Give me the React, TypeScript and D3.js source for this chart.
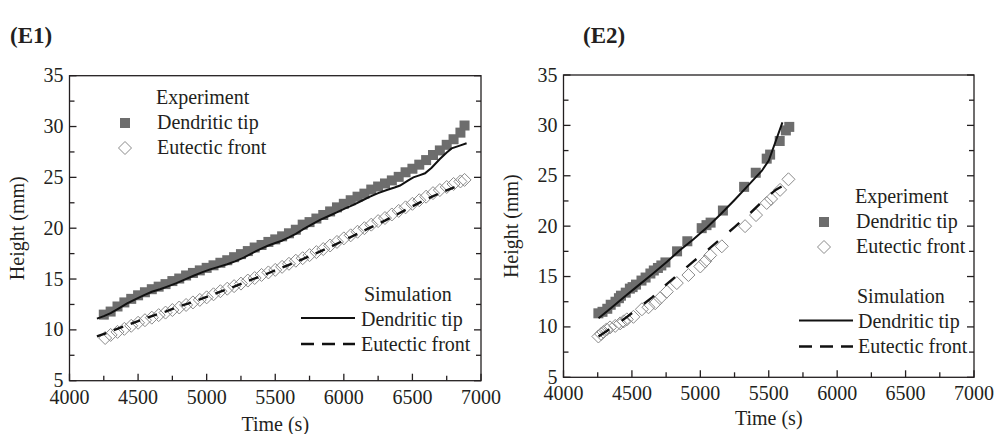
import React from 'react';
import * as d3 from 'd3';

type Pt = [number, number];

const xTickValues = [4000, 4500, 5000, 5500, 6000, 6500, 7000];
const yTickValues = [5, 10, 15, 20, 25, 30, 35];

// (E1) experiment: time (s), height (mm)
const e1ExpTip: Pt[] = [
  [4250, 11.5], [4300, 11.8], [4350, 12.3], [4400, 12.7], [4450, 13.05], [4500, 13.4],
  [4550, 13.7], [4600, 14.0], [4650, 14.25], [4700, 14.5], [4750, 14.8], [4800, 15.05],
  [4850, 15.35], [4900, 15.6], [4950, 15.85], [5000, 16.1], [5050, 16.35], [5100, 16.6],
  [5150, 16.85], [5200, 17.15], [5250, 17.45], [5300, 17.75], [5350, 18.1], [5400, 18.35],
  [5450, 18.65], [5500, 18.9], [5550, 19.2], [5600, 19.5], [5650, 19.85], [5700, 20.35],
  [5750, 20.6], [5800, 20.95], [5850, 21.3], [5900, 21.65], [5950, 22.05], [6000, 22.4],
  [6050, 22.75], [6100, 23.1], [6150, 23.4], [6200, 23.8], [6250, 24.1], [6300, 24.4],
  [6350, 24.7], [6400, 25.05], [6450, 25.5], [6500, 25.85], [6550, 26.25], [6600, 26.7],
  [6650, 27.2], [6700, 27.65], [6750, 28.2], [6800, 28.75], [6850, 29.4], [6880, 30.1],
];
const e1ExpFront: Pt[] = [
  [4260, 9.2], [4300, 9.5], [4350, 9.8], [4400, 10.1], [4450, 10.4], [4500, 10.7],
  [4550, 10.95], [4600, 11.2], [4650, 11.45], [4700, 11.7], [4750, 11.95], [4800, 12.2],
  [4850, 12.45], [4900, 12.7], [4950, 12.95], [5000, 13.2], [5050, 13.5], [5100, 13.8],
  [5150, 14.05], [5200, 14.3], [5250, 14.55], [5300, 14.85], [5350, 15.1], [5400, 15.4],
  [5450, 15.65], [5500, 15.9], [5550, 16.2], [5600, 16.5], [5650, 16.8], [5700, 17.05],
  [5750, 17.35], [5800, 17.65], [5850, 17.95], [5900, 18.3], [5950, 18.65], [6000, 19.0],
  [6050, 19.3], [6100, 19.65], [6150, 20.0], [6200, 20.35], [6250, 20.7], [6300, 21.0],
  [6350, 21.35], [6400, 21.7], [6450, 22.05], [6500, 22.4], [6550, 22.75], [6600, 23.1],
  [6650, 23.45], [6700, 23.75], [6750, 24.05], [6800, 24.35], [6850, 24.6], [6880, 24.75],
];
// (E1) simulation
const e1SimTip: Pt[] = [
  [4200, 11.1], [4250, 11.35], [4300, 11.65], [4357, 12.1], [4420, 12.6], [4479, 13.0],
  [4540, 13.4], [4600, 13.75], [4660, 14.0], [4722, 14.3], [4780, 14.6], [4843, 14.97],
  [4900, 15.3], [4965, 15.66], [5025, 15.95], [5086, 16.2], [5150, 16.45], [5207, 16.74],
  [5270, 17.1], [5329, 17.53], [5390, 17.95], [5450, 18.3], [5500, 18.55], [5548, 18.77],
  [5600, 19.1], [5650, 19.45], [5705, 19.9], [5770, 20.4], [5830, 20.85], [5890, 21.2],
  [5948, 21.55], [6010, 21.95], [6070, 22.3], [6130, 22.7], [6191, 23.1], [6250, 23.45],
  [6313, 23.76], [6370, 24.0], [6410, 24.2], [6470, 24.7], [6507, 25.0], [6550, 25.2],
  [6592, 25.4], [6640, 25.95], [6700, 26.8], [6750, 27.45], [6786, 27.85], [6840, 28.1],
  [6895, 28.35],
];
const e1SimFront: Pt[] = [
  [4200, 9.35], [4300, 9.85], [4400, 10.35], [4500, 10.85], [4600, 11.35], [4700, 11.8],
  [4800, 12.3], [4900, 12.75], [5000, 13.25], [5100, 13.75], [5200, 14.25], [5300, 14.8],
  [5400, 15.3], [5500, 15.85], [5600, 16.4], [5700, 16.95], [5800, 17.55], [5900, 18.15],
  [6000, 18.8], [6100, 19.45], [6200, 20.1], [6300, 20.75], [6400, 21.45], [6500, 22.15],
  [6600, 22.85], [6700, 23.45], [6800, 24.0], [6860, 24.35],
];

// (E2) experiment
const e2ExpTip: Pt[] = [
  [4255, 11.35], [4285, 11.5], [4320, 11.8], [4345, 12.2], [4380, 12.5], [4405, 12.85],
  [4420, 13.1], [4455, 13.4], [4485, 13.8], [4505, 13.95], [4530, 14.2], [4570, 14.6],
  [4600, 14.9], [4635, 15.3], [4660, 15.6], [4690, 15.85], [4715, 16.1], [4745, 16.4],
  [4830, 17.5], [4905, 18.5], [5010, 19.8], [5045, 20.1], [5075, 20.35], [5165, 21.55],
  [5320, 23.9], [5405, 25.3], [5485, 26.7], [5510, 27.1], [5580, 28.45], [5625, 29.5],
  [5650, 29.85],
];
const e2ExpFront: Pt[] = [
  [4255, 9.05], [4275, 9.3], [4292, 9.5], [4315, 9.75], [4340, 9.95], [4378, 10.1],
  [4414, 10.35], [4440, 10.55], [4463, 10.75], [4511, 11.0], [4573, 11.75], [4621, 11.95],
  [4670, 12.35], [4706, 12.85], [4755, 13.5], [4828, 14.35], [4913, 15.15], [5000, 16.0],
  [5035, 16.5], [5072, 17.1], [5157, 18.0], [5327, 20.0], [5407, 21.1], [5485, 22.3],
  [5517, 22.7], [5583, 23.6], [5644, 24.65],
];
// (E2) simulation
const e2SimTip: Pt[] = [
  [4256, 10.85], [4350, 11.9], [4450, 13.05], [4550, 14.15], [4650, 15.25], [4750, 16.4],
  [4850, 17.6], [4950, 18.7], [5050, 19.9], [5150, 21.2], [5250, 22.6], [5350, 24.05],
  [5450, 25.5], [5500, 26.5], [5550, 28.4], [5600, 30.3],
];
const e2SimFront: Pt[] = [
  [4256, 9.05], [4350, 9.9], [4450, 10.85], [4550, 11.9], [4650, 12.95], [4750, 14.2],
  [4850, 15.35], [4950, 16.5], [5050, 17.6], [5150, 18.75], [5250, 19.9], [5350, 21.1],
  [5450, 22.4], [5550, 23.6], [5650, 24.35],
];

const legendNames = ['Experiment', 'Dendritic tip', 'Eutectic front', 'Simulation'];

const FONT = '"Liberation Serif", "Times New Roman", serif';
const INK = '#231f20';
const SQUARE = '#6d6d6d';
const DIAMOND = '#8a8a8a';

const diamond = (cx: number, cy: number, r: number) =>
  `M${cx},${cy - r}L${cx + r},${cy}L${cx},${cy + r}L${cx - r},${cy}Z`;

interface PanelProps {
  title: string;
  titleX: number;
  frame: { l: number; r: number; t: number; b: number };
  labelX: number;
  xTitleY: number;
  expTip: Pt[];
  expFront: Pt[];
  simTip: Pt[];
  simFront: Pt[];
  dash: string;
  expLegend: { markX: number; textX: number; y: number };
  simLegend: { lineX0: number; lineX1: number; textX: number; headX: number; y: number };
}

function Panel(p: PanelProps) {
  const { frame } = p;
  const x = d3.scaleLinear().domain([4000, 7000]).range([frame.l, frame.r]);
  const y = d3.scaleLinear().domain([5, 35]).range([frame.b, frame.t]);
  const line = d3.line<Pt>().x(d => x(d[0])).y(d => y(d[1]));
  const xMinor = d3.range(4250, 7000, 500);
  const yMinor = d3.range(7.5, 35, 5);
  const major = 7;
  const minor = 5;
  const ax = { stroke: INK, strokeWidth: 1.3 };
  const el = p.expLegend;
  const sl = p.simLegend;

  return (
    <g style={{ fontFamily: FONT }} fill={INK}>
      <text x={p.titleX} y={43} fontSize={23} fontWeight="bold">{p.title}</text>

      {/* data */}
      <g>
        {p.expTip.map((d, i) => (
          <rect key={i} x={x(d[0]) - 5} y={y(d[1]) - 5} width={10} height={10} fill={SQUARE} />
        ))}
        {p.expFront.map((d, i) => (
          <path key={i} d={diamond(x(d[0]), y(d[1]), 6.5)} fill="none" stroke={DIAMOND} strokeWidth={1} />
        ))}
        <path d={line(p.simTip) || ''} fill="none" stroke="#111" strokeWidth={2} />
        <path d={line(p.simFront) || ''} fill="none" stroke="#111" strokeWidth={2.4} strokeDasharray={p.dash} />
      </g>

      {/* frame and ticks */}
      <rect x={frame.l} y={frame.t} width={frame.r - frame.l} height={frame.b - frame.t} fill="none" {...ax} />
      {xTickValues.map(v => (
        <line key={'xM' + v} x1={x(v)} x2={x(v)} y1={frame.b} y2={frame.b - major} {...ax} />
      ))}
      {xMinor.map(v => (
        <line key={'xm' + v} x1={x(v)} x2={x(v)} y1={frame.b} y2={frame.b - minor} {...ax} />
      ))}
      {yTickValues.map(v => (
        <g key={'yM' + v}>
          <line x1={frame.l} x2={frame.l + major} y1={y(v)} y2={y(v)} {...ax} />
          <line x1={frame.r} x2={frame.r - major} y1={y(v)} y2={y(v)} {...ax} />
        </g>
      ))}
      {yMinor.map(v => (
        <g key={'ym' + v}>
          <line x1={frame.l} x2={frame.l + minor} y1={y(v)} y2={y(v)} {...ax} />
          <line x1={frame.r} x2={frame.r - minor} y1={y(v)} y2={y(v)} {...ax} />
        </g>
      ))}

      {/* tick labels */}
      {xTickValues.map(v => (
        <text key={'xl' + v} x={x(v)} y={frame.b + 23} fontSize={20} textAnchor="middle">{v}</text>
      ))}
      {yTickValues.map(v => (
        <text key={'yl' + v} x={frame.l - 6} y={y(v) + 6.5} fontSize={20} textAnchor="end">{v}</text>
      ))}

      {/* axis titles */}
      <text x={(frame.l + frame.r) / 2} y={p.xTitleY} fontSize={20} textAnchor="middle">Time (s)</text>
      <text transform={`translate(${p.labelX},${(frame.t + frame.b) / 2}) rotate(-90)`} fontSize={20}
        textAnchor="middle">Height (mm)</text>

      {/* experiment legend */}
      <text x={el.textX - 1} y={el.y} fontSize={20}>{legendNames[0]}</text>
      <rect x={el.markX - 5} y={el.y + 19 - 5} width={10} height={10} fill={SQUARE} />
      <text x={el.textX} y={el.y + 25} fontSize={20}>{legendNames[1]}</text>
      <path d={diamond(el.markX, el.y + 44, 6.5)} fill="#fff" stroke={DIAMOND} strokeWidth={1} />
      <text x={el.textX} y={el.y + 50} fontSize={20}>{legendNames[2]}</text>

      {/* simulation legend */}
      <text x={sl.headX} y={sl.y} fontSize={20}>{legendNames[3]}</text>
      <line x1={sl.lineX0} x2={sl.lineX1} y1={sl.y + 17.5} y2={sl.y + 17.5} stroke="#111" strokeWidth={2} />
      <text x={sl.textX} y={sl.y + 25} fontSize={20}>{legendNames[1]}</text>
      <line x1={sl.lineX0} x2={sl.lineX1} y1={sl.y + 43.5} y2={sl.y + 43.5} stroke="#111" strokeWidth={2.4}
        strokeDasharray="13,8" />
      <text x={sl.textX} y={sl.y + 50} fontSize={20}>{legendNames[2]}</text>
    </g>
  );
}

export default function App() {
  return (
    <svg width={995} height={434} style={{ position: 'absolute', left: 0, top: 0, background: '#fff' }}>
      <rect width={995} height={434} fill="#fff" />
      <Panel
        title="(E1)"
        titleX={10}
        frame={{ l: 69.5, r: 481, t: 75.7, b: 380.7 }}
        labelX={24}
        xTitleY={431}
        expTip={e1ExpTip}
        expFront={e1ExpFront}
        simTip={e1SimTip}
        simFront={e1SimFront}
        dash="10,8"
        expLegend={{ markX: 125, textX: 157, y: 104 }}
        simLegend={{ lineX0: 301, lineX1: 355, textX: 361, headX: 364, y: 300.5 }}
      />
      <Panel
        title="(E2)"
        titleX={583}
        frame={{ l: 563.5, r: 974, t: 75, b: 377.3 }}
        labelX={518}
        xTitleY={425}
        expTip={e2ExpTip}
        expFront={e2ExpFront}
        simTip={e2SimTip}
        simFront={e2SimFront}
        dash="13,15"
        expLegend={{ markX: 824, textX: 856, y: 203 }}
        simLegend={{ lineX0: 799, lineX1: 853, textX: 858, headX: 857, y: 303 }}
      />
    </svg>
  );
}
